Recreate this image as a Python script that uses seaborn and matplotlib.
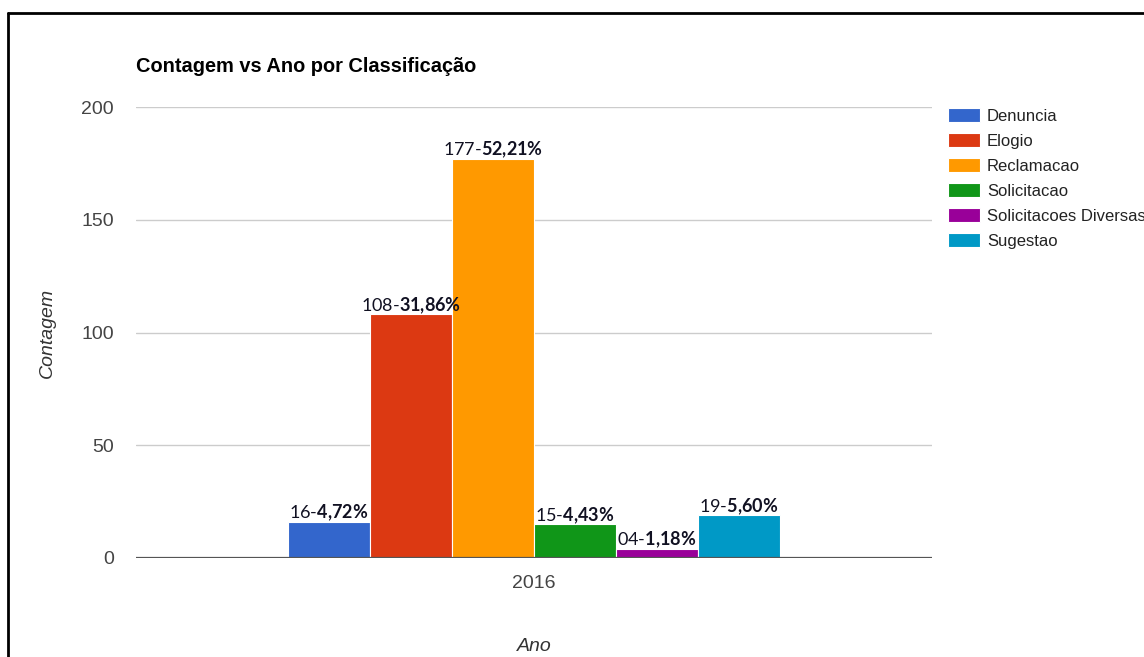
import matplotlib
matplotlib.use("Agg")
import matplotlib.pyplot as plt
from matplotlib.lines import Line2D
import seaborn as sns
import pandas as pd

# ---- data ----
anos = ["2016"]
classificacoes = ["Denuncia", "Elogio", "Reclamacao", "Solicitacao",
                  "Solicitacoes Diversas", "Sugestao"]
contagens = [16, 108, 177, 15, 4, 19]
rotulos_qtd = ["16", "108", "177", "15", "04", "19"]
rotulos_pct = ["4,72%", "31,86%", "52,21%", "4,43%", "1,18%", "5,60%"]
cores = ["#3366cc", "#dc3912", "#ff9900", "#109618", "#990099", "#0099c6"]
yticks = [0, 50, 100, 150, 200]

df = pd.DataFrame({
    "Ano": anos * len(classificacoes),
    "Classificacao": classificacoes,
    "Contagem": contagens,
})

sns.set_theme(style="white")
plt.rcParams["font.family"] = ["Liberation Sans", "DejaVu Sans"]
plt.rcParams["mathtext.fontset"] = "custom"
plt.rcParams["mathtext.rm"] = "Lato"
plt.rcParams["mathtext.bf"] = "Lato:bold"

W, H = 1144, 657
fig = plt.figure(figsize=(W / 100, H / 100), dpi=100)
ax = fig.add_axes([136 / W, 1 - 558 / H, (932 - 136) / W, (558 - 107) / H])

sns.barplot(data=df, x="Ano", y="Contagem", hue="Classificacao",
            hue_order=classificacoes, palette=cores, saturation=1,
            width=0.618, edgecolor="white", linewidth=0.8, ax=ax)

ax.set_xlim(-0.5, 0.5)
ax.set_ylim(0, 200)
ax.set_yticks(yticks)
ax.yaxis.grid(True, color="#cccccc", linewidth=1)
ax.set_axisbelow(True)
ax.axhline(0, color="#555555", linewidth=1.6, zorder=3)
for s in ax.spines.values():
    s.set_visible(False)
ax.tick_params(axis="both", length=0, labelsize=14, labelcolor="#444444")
ax.tick_params(axis="x", pad=12)
ax.tick_params(axis="y", pad=16)

ax.set_xlabel("Ano", fontsize=14, style="italic", color="#333333", labelpad=33.5)
ax.set_ylabel("Contagem", fontsize=14, style="italic", color="#333333", labelpad=18.5)
ax.set_title("Contagem vs Ano por Classificação", loc="left", fontsize=14.4,
             fontweight="bold", color="#000000", pad=25)

# bar labels
for i, cont in enumerate(ax.containers):
    for bar in cont:
        x = bar.get_x() + bar.get_width() / 2
        y = bar.get_height()
        pct = rotulos_pct[i].replace(",", "{,}").replace("%", r"\%")
        txt = r"$\mathrm{" + rotulos_qtd[i] + r"}$-$\mathbf{" + pct + "}$"
        ax.annotate(txt, (x, y), xytext=(0, -1), textcoords="offset points",
                    ha="center", va="bottom", fontsize=13, color="#111122",
                    family="Lato")

leg = ax.legend(loc="upper left", bbox_to_anchor=(948 / W, 1 - 108 / H),
                bbox_transform=fig.transFigure, frameon=False, fontsize=12,
                handlelength=1.92, handleheight=0.9, handletextpad=0.42,
                labelspacing=0.56, borderpad=0, borderaxespad=0)
for t in leg.get_texts():
    t.set_color("#222222")

# frame lines
fig.add_artist(Line2D([8 / W, 8 / W], [0, 1 - 13 / H], transform=fig.transFigure,
                      color="black", linewidth=2))
fig.add_artist(Line2D([8 / W, 1], [1 - 13 / H, 1 - 13 / H], transform=fig.transFigure,
                      color="black", linewidth=2))

fig.savefig("out.png", dpi=100)
